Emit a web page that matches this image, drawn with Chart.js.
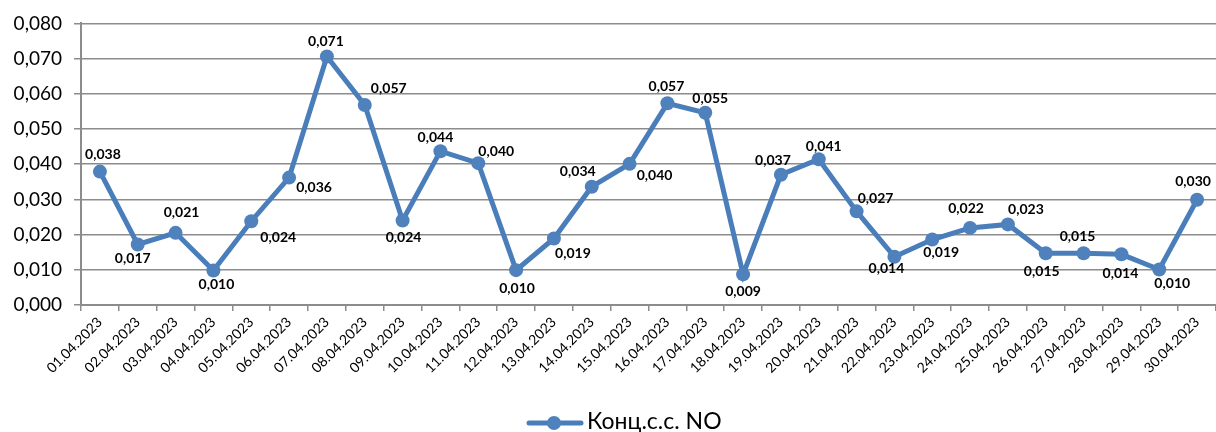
<!DOCTYPE html>
<html>
<head>
<meta charset="utf-8">
<script src="https://cdn.jsdelivr.net/npm/chart.js@4/dist/chart.umd.min.js"></script>
<style>
  html, body { margin: 0; padding: 0; background: #fff; overflow: hidden; }
  #wrap { width: 1223px; height: 432px; position: relative; }
</style>
</head>
<body>
<div id="wrap"><canvas id="no-chart"></canvas></div>
<script>
// Chart data
const dates = [
  "01.04.2023", "02.04.2023", "03.04.2023", "04.04.2023", "05.04.2023",
  "06.04.2023", "07.04.2023", "08.04.2023", "09.04.2023", "10.04.2023",
  "11.04.2023", "12.04.2023", "13.04.2023", "14.04.2023", "15.04.2023",
  "16.04.2023", "17.04.2023", "18.04.2023", "19.04.2023", "20.04.2023",
  "21.04.2023", "22.04.2023", "23.04.2023", "24.04.2023", "25.04.2023",
  "26.04.2023", "27.04.2023", "28.04.2023", "29.04.2023", "30.04.2023",
];
const noValues = [
  0.0379, 0.0172, 0.0205, 0.0098, 0.0238,
  0.0362, 0.0706, 0.0568, 0.0240, 0.0437,
  0.0403, 0.0099, 0.0189, 0.0336, 0.0401,
  0.0573, 0.0546, 0.0087, 0.0370, 0.0414,
  0.0266, 0.0137, 0.0186, 0.0219, 0.0229,
  0.0147, 0.0147, 0.0144, 0.0101, 0.0299,
];
const seriesName = "Конц.с.с. NO";

// Label offsets from each point (px), like the hand-placed labels in the original
const labelDx = [3, -5, 6, 3, 27, 25, -1, 24, 1, -5, 18, 1, 19, -14, 25, -1, 5, 0, -8, 5, 19, -8, 9, -4, 18, -4, -6, -1, 13, -4];
const labelDy = [-17, 14, -20, 14, 16, 10, -15, -17, 17, -14, -12, 18, 15, -15, 12, -17, -14, 17, -14, -13, -13, 12, 13, -19, -15, 18, -17, 19, 14, -18];

const lineColor = "#4A7EBB";
const markerColor = "#4F81BD";
const gridColor = "#8C8C8C";
const fontFamily = "Lato, 'Open Sans', sans-serif";

const fmt = (v) => v.toFixed(3).replace(".", ",");

// Draws the value labels next to each point
const valueLabels = {
  id: "valueLabels",
  afterDatasetsDraw(chart) {
    const ctx = chart.ctx;
    const meta = chart.getDatasetMeta(0);
    ctx.save();
    ctx.font = "bold 14px " + fontFamily;
    ctx.fillStyle = "#000";
    ctx.textAlign = "center";
    ctx.textBaseline = "middle";
    meta.data.forEach((pt, i) => {
      ctx.fillText(fmt(noValues[i]), pt.x + labelDx[i], pt.y + labelDy[i]);
    });
    ctx.restore();
  },
};

// Excel-like legend: line with a marker and the series name
const lineLegend = {
  id: "lineLegend",
  afterDraw(chart) {
    const ctx = chart.ctx;
    const y = 423;
    ctx.save();
    ctx.strokeStyle = lineColor;
    ctx.lineWidth = 5;
    ctx.lineCap = "round";
    ctx.beginPath();
    ctx.moveTo(529, y);
    ctx.lineTo(581, y);
    ctx.stroke();
    ctx.fillStyle = markerColor;
    ctx.beginPath();
    ctx.arc(554, y, 7, 0, Math.PI * 2);
    ctx.fill();
    ctx.fillStyle = "#000";
    ctx.font = "23px " + fontFamily;
    ctx.textAlign = "left";
    ctx.textBaseline = "middle";
    ctx.fillText(seriesName, 587, y - 1);
    ctx.restore();
  },
};

const ctx = document.querySelector("#no-chart");

new Chart(ctx, {
  type: "line",
  data: {
    labels: dates,
    datasets: [
      {
        label: seriesName,
        data: noValues,
        borderColor: lineColor,
        backgroundColor: markerColor,
        borderWidth: 5,
        pointRadius: 7,
        pointBackgroundColor: markerColor,
        pointBorderColor: markerColor,
        pointBorderWidth: 0,
        tension: 0,
        clip: false,
      },
    ],
  },
  options: {
    responsive: true,
    maintainAspectRatio: false,
    animation: false,
    layout: { padding: { top: 22, right: 0, bottom: 0, left: 0 } },
    plugins: {
      legend: { display: false },
      tooltip: { enabled: false },
    },
    scales: {
      x: {
        offset: true,
        afterFit: (scale) => {
          scale.height = 127;
        },
        grid: {
          offset: true,
          drawOnChartArea: false,
          drawTicks: true,
          tickLength: 6,
          color: gridColor,
          lineWidth: 1.5,
        },
        border: { color: gridColor, width: 2 },
        ticks: {
          autoSkip: false,
          maxRotation: 45,
          minRotation: 45,
          padding: 3,
          color: "#000",
          font: { family: fontFamily, size: 14 },
        },
      },
      y: {
        min: 0,
        max: 0.08,
        afterFit: (scale) => {
          scale.width = 81;
        },
        grid: {
          color: gridColor,
          lineWidth: 1.5,
          tickLength: 7,
        },
        border: { color: gridColor, width: 2 },
        ticks: {
          stepSize: 0.01,
          padding: 12,
          color: "#000",
          font: { family: fontFamily, size: 19 },
          callback: (v) => fmt(v),
        },
      },
    },
  },
  plugins: [valueLabels, lineLegend],
});
</script>
</body>
</html>
